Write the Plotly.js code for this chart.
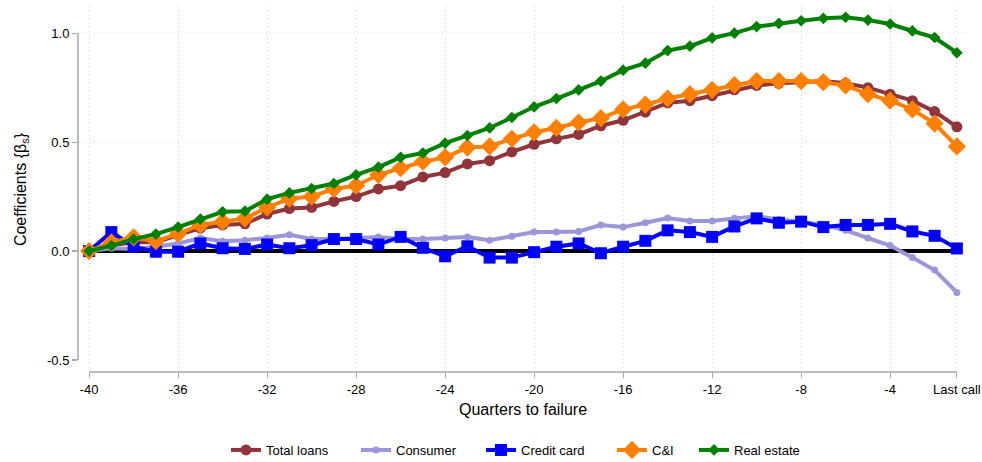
<!DOCTYPE html>
<html>
<head>
<meta charset="utf-8">
<script src="https://cdn.plot.ly/plotly-3.0.1.min.js"></script>
<style>
  body { margin: 0; background: #fff; }
  #chart { width: 982px; height: 462px; }
</style>
</head>
<body>
<div id="chart"></div>
<script>
// quarters before failure, -1 is the last call report
const quarters = [-40, -39, -38, -37, -36, -35, -34, -33, -32, -31,
                  -30, -29, -28, -27, -26, -25, -24, -23, -22, -21,
                  -20, -19, -18, -17, -16, -15, -14, -13, -12, -11,
                  -10, -9, -8, -7, -6, -5, -4, -3, -2, -1];

const totalLoans = [0, 0.027, 0.04, 0.04, 0.073, 0.105, 0.12, 0.125, 0.17, 0.195,
                    0.2, 0.228, 0.25, 0.285, 0.3, 0.34, 0.36, 0.4, 0.415, 0.455,
                    0.49, 0.515, 0.535, 0.575, 0.6, 0.638, 0.68, 0.69, 0.713, 0.74,
                    0.76, 0.77, 0.775, 0.78, 0.77, 0.75, 0.72, 0.69, 0.64, 0.57];

const consumer = [0, 0.013, 0.01, 0.02, 0.035, 0.06, 0.045, 0.05, 0.06, 0.075,
                  0.055, 0.055, 0.06, 0.065, 0.055, 0.055, 0.06, 0.065, 0.05, 0.068,
                  0.087, 0.087, 0.09, 0.12, 0.11, 0.13, 0.152, 0.138, 0.138, 0.15,
                  0.16, 0.145, 0.135, 0.12, 0.095, 0.06, 0.025, -0.03, -0.087, -0.19];

const creditCard = [0, 0.087, 0.02, -0.003, -0.003, 0.035, 0.013, 0.01, 0.03, 0.013,
                    0.027, 0.055, 0.055, 0.03, 0.065, 0.015, -0.024, 0.022, -0.03, -0.03,
                    -0.005, 0.02, 0.035, -0.01, 0.02, 0.047, 0.095, 0.087, 0.065, 0.113,
                    0.15, 0.13, 0.135, 0.11, 0.12, 0.12, 0.125, 0.09, 0.07, 0.012];

const cAndI = [0, 0.04, 0.063, 0.045, 0.08, 0.12, 0.135, 0.15, 0.2, 0.24,
               0.25, 0.285, 0.3, 0.35, 0.38, 0.41, 0.43, 0.475, 0.48, 0.515,
               0.545, 0.565, 0.59, 0.61, 0.65, 0.672, 0.7, 0.72, 0.74, 0.762,
               0.78, 0.78, 0.78, 0.775, 0.76, 0.72, 0.69, 0.65, 0.585, 0.48];

const realEstate = [0, 0.025, 0.055, 0.078, 0.11, 0.147, 0.18, 0.183, 0.238, 0.267,
                    0.287, 0.31, 0.35, 0.385, 0.43, 0.45, 0.495, 0.53, 0.565, 0.613,
                    0.662, 0.7, 0.74, 0.78, 0.83, 0.862, 0.92, 0.94, 0.978, 1.0,
                    1.03, 1.045, 1.057, 1.068, 1.073, 1.06, 1.042, 1.01, 0.98, 0.91];

const zeroLine = [0, 0];
const zeroX = [-40, -1];

const xTickVals = [-40, -36, -32, -28, -24, -20, -16, -12, -8, -4, -1];
const xTickText = ["-40", "-36", "-32", "-28", "-24", "-20", "-16", "-12", "-8", "-4", "Last call"];
const yTickVals = [-0.5, 0, 0.5, 1];
const yTickText = ["-0.5", "0.0", "0.5", "1.0"];
const yGrid = [0.5, 1.0];

// one legend box per series so the entries sit where the original has them
const legendLeft = [226, 356, 481, 612, 694];

function series(name, y, color, symbol, size, legend) {
    return {
        x: quarters, y: y, name: name, legend: legend,
        type: 'scatter', mode: 'lines+markers',
        line: {color: color, width: 4},
        marker: {color: color, symbol: symbol, size: size}
    };
}

let data = [
    {x: zeroX, y: zeroLine, type: 'scatter', mode: 'lines',
     line: {color: '#000', width: 4}, showlegend: false, hoverinfo: 'skip'},
    series('Total loans', totalLoans, '#90353b', 'circle', 11, 'legend'),
    series('Consumer', consumer, '#9a96d8', 'circle', 7, 'legend2'),
    series('Credit card', creditCard, '#0000ff', 'square', 12, 'legend3'),
    series('C&I', cAndI, '#ff8000', 'diamond', 14, 'legend4'),
    series('Real estate', realEstate, '#008000', 'diamond', 9, 'legend5')
];

const axisGray = '#a6a6a6';
const gridGray = '#d2d2d2';
let shapes = [
    // axis lines only span the tick range, like the original
    {type: 'line', xref: 'x', yref: 'paper', x0: -40, x1: -1, y0: 0, y1: 0,
     line: {color: axisGray, width: 1.5}},
    {type: 'line', xref: 'paper', yref: 'y', x0: 0, x1: 0, y0: -0.5, y1: 1.0,
     line: {color: axisGray, width: 1.5}}
];
yGrid.forEach(v => {
    shapes.push({type: 'line', xref: 'paper', yref: 'y', x0: 0, x1: 1, y0: v, y1: v,
                 layer: 'below', line: {color: gridGray, width: 1, dash: '1px,3px'}});
});

let layout = {
    width: 982, height: 462,
    margin: {l: 78, r: 14, t: 7, b: 90},
    paper_bgcolor: '#fff', plot_bgcolor: '#fff',
    font: {family: '"Liberation Sans", Arial, sans-serif', size: 13, color: '#000'},
    showlegend: true,
    xaxis: {
        range: [-40.5, -0.5],
        tickvals: xTickVals, ticktext: xTickText,
        ticks: 'outside', ticklen: 5, tickcolor: axisGray, tickwidth: 1.2,
        showline: false, zeroline: false,
        showgrid: true, gridcolor: gridGray, griddash: '1px,3px', gridwidth: 1,
        tickfont: {size: 13},
        title: {text: 'Quarters to failure', font: {size: 16}, standoff: 8}
    },
    yaxis: {
        range: [-0.555, 1.12],
        tickvals: yTickVals, ticktext: yTickText,
        ticks: 'outside', ticklen: 5, tickcolor: axisGray, tickwidth: 1.2,
        showline: false, zeroline: false, showgrid: false,
        tickfont: {size: 13},
        title: {text: 'Coefficients {β<sub>s</sub>}', font: {size: 16}, standoff: 16}
    },
    shapes: shapes
};

['legend', 'legend2', 'legend3', 'legend4', 'legend5'].forEach((key, i) => {
    layout[key] = {
        orientation: 'h', xanchor: 'left', yanchor: 'middle',
        xref: 'container', yref: 'container',
        x: legendLeft[i] / 982, y: (462 - 450) / 462,
        font: {size: 13}, bgcolor: 'rgba(0,0,0,0)'
    };
});

Plotly.newPlot('chart', data, layout, {displayModeBar: false, staticPlot: true});
</script>
</body>
</html>
